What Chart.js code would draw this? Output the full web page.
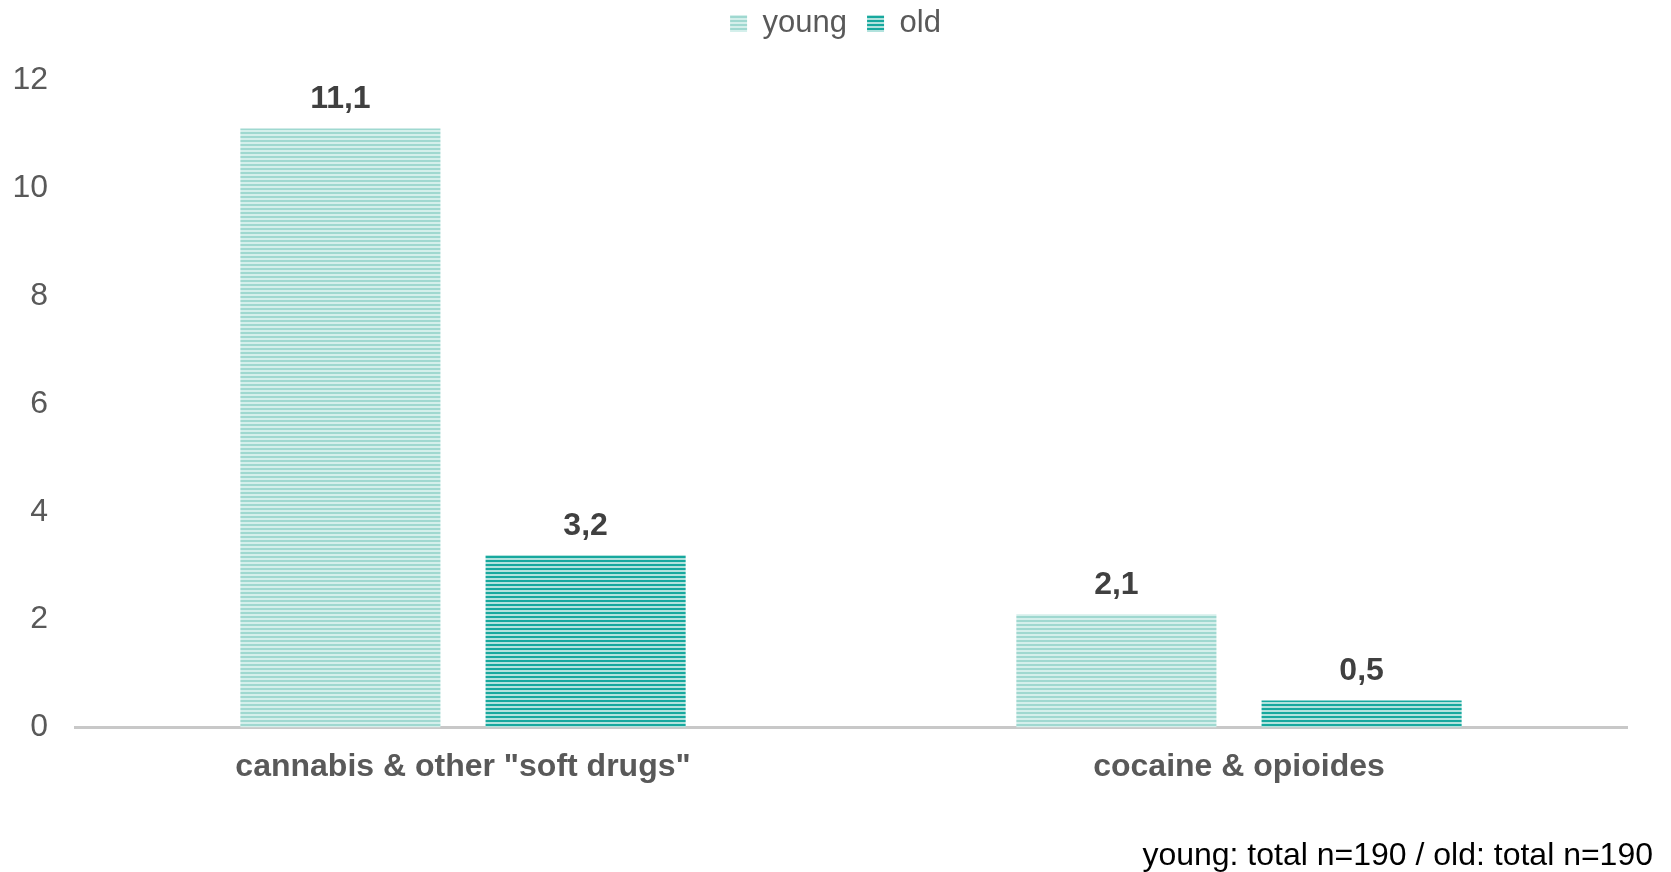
<!DOCTYPE html>
<html>
<head>
<meta charset="utf-8">
<script src="https://cdn.jsdelivr.net/npm/chart.js@4/dist/chart.umd.min.js"></script>
<style>
    html, body { margin: 0; padding: 0; background: #ffffff; }
    #wrap { width: 1671px; height: 872px; }
</style>
</head>
<body>
<div id="wrap"><canvas id="drugChart"></canvas></div>
<script>
// Datos del gráfico
const categories = ['cannabis & other "soft drugs"', 'cocaine & opioides'];
const youngValues = [11.1, 2.1];
const oldValues = [3.2, 0.5];
const yTicks = [0, 2, 4, 6, 8, 10, 12];
const footnote = 'young: total n=190 / old: total n=190';

const FONT = '"Liberation Sans", Arial, sans-serif';

/**
 * Crea un patrón de rayas horizontales
 */
function stripePattern(base, line) {
    const c = document.createElement('canvas');
    c.width = 8;
    c.height = 4;
    const g = c.getContext('2d');
    g.fillStyle = base;
    g.fillRect(0, 0, 8, 4);
    g.fillStyle = line;
    g.fillRect(0, 2, 8, 2);
    return g.createPattern(c, 'repeat');
}

const youngFill = stripePattern('#9fd8d0', '#d4efeb');
const oldFill = stripePattern('#17a89e', '#b2e2dd');

// Espacio extra debajo de la leyenda y centrado en el lienzo
const legendSpace = {
    id: 'legendSpace',
    beforeInit(chart) {
        const origFit = chart.legend.fit;
        chart.legend.fit = function () {
            origFit.bind(chart.legend)();
            this.height += 31;
        };
    },
    afterLayout(chart) {
        chart.legend.left += 22;
        chart.legend.right += 22;
    }
};

// Etiquetas de valor encima de las barras
const valueLabels = {
    id: 'valueLabels',
    afterDatasetsDraw(chart) {
        const ctx = chart.ctx;
        ctx.save();
        ctx.font = 'bold 32px ' + FONT;
        ctx.fillStyle = '#404040';
        ctx.textAlign = 'center';
        ctx.textBaseline = 'middle';
        chart.data.datasets.forEach((ds, i) => {
            chart.getDatasetMeta(i).data.forEach((bar, j) => {
                const txt = ds.data[j].toFixed(1).replace('.', ',');
                ctx.fillText(txt, bar.x, bar.y - 29);
            });
        });
        ctx.restore();
    }
};

// Nota al pie
const footNote = {
    id: 'footNote',
    afterDraw(chart) {
        const ctx = chart.ctx;
        ctx.save();
        ctx.font = '32px ' + FONT;
        ctx.fillStyle = '#000000';
        ctx.textAlign = 'right';
        ctx.textBaseline = 'middle';
        ctx.fillText(footnote, 1653, 856);
        ctx.restore();
    }
};

new Chart(document.getElementById('drugChart'), {
    type: 'bar',
    data: {
        labels: categories,
        datasets: [
            {
                label: 'young',
                data: youngValues,
                backgroundColor: youngFill,
                borderWidth: 0
            },
            {
                label: 'old',
                data: oldValues,
                backgroundColor: oldFill,
                borderWidth: 0
            }
        ]
    },
    options: {
        responsive: true,
        maintainAspectRatio: false,
        animation: false,
        categoryPercentage: 0.632,
        barPercentage: 0.816,
        layout: {
            padding: { left: 0, right: 44, top: -12, bottom: 66 }
        },
        plugins: {
            legend: {
                position: 'top',
                labels: {
                    font: { family: FONT, size: 31 },
                    color: '#595959',
                    boxWidth: 17,
                    boxHeight: 17,
                    padding: 20
                }
            },
            tooltip: { enabled: false }
        },
        scales: {
            x: {
                grid: { display: false, drawTicks: false },
                border: { display: true, color: '#c8c8c8', width: 3 },
                ticks: {
                    font: { family: FONT, size: 32, weight: 'bold' },
                    color: '#595959',
                    padding: 20
                }
            },
            y: {
                min: 0,
                max: 12,
                afterBuildTicks(scale) {
                    scale.ticks = yTicks.map(v => ({ value: v }));
                },
                afterFit(scale) {
                    scale.width = 75;
                },
                grid: { display: false, drawTicks: false },
                border: { display: false },
                ticks: {
                    font: { family: FONT, size: 32 },
                    color: '#595959',
                    padding: 27
                }
            }
        }
    },
    plugins: [legendSpace, valueLabels, footNote]
});
</script>
</body>
</html>
